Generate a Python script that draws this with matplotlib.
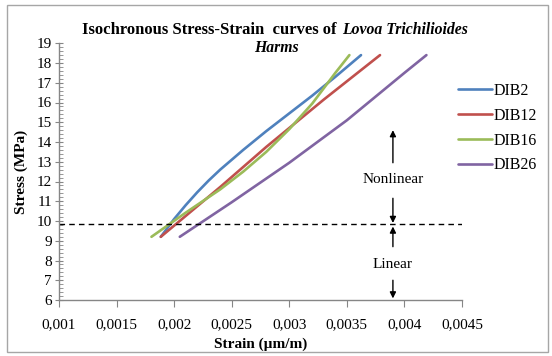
import matplotlib
matplotlib.use("Agg")
import matplotlib.pyplot as plt
from matplotlib.ticker import MultipleLocator, FuncFormatter
from matplotlib.patches import Rectangle

plt.rcParams['font.family'] = ['Liberation Serif', 'DejaVu Serif']

# strain (um/m) / stress (MPa)
dib2_strain = [0.001884, 0.002, 0.0021, 0.0022, 0.0023, 0.0024, 0.0025, 0.0026, 0.0028, 0.003, 0.0032, 0.0034, 0.003623]
dib2_stress = [9.2, 10.1, 10.8, 11.45, 12.05, 12.6, 13.1, 13.6, 14.55, 15.45, 16.35, 17.3, 18.4]

dib12_strain = [0.001884, 0.0024, 0.0028, 0.0033, 0.003788]
dib12_stress = [9.2, 11.72, 13.75, 16.15, 18.4]

dib16_strain = [0.001803, 0.0021, 0.0024, 0.0026, 0.0028, 0.003, 0.0032, 0.0034, 0.003522]
dib16_stress = [9.2, 10.42, 11.6, 12.5, 13.5, 14.65, 15.95, 17.5, 18.4]

dib26_strain = [0.002049, 0.0025, 0.003, 0.0035, 0.004, 0.004191]
dib26_stress = [9.2, 10.95, 12.95, 15.1, 17.5, 18.4]

series = [
    ("DIB2", dib2_strain, dib2_stress, "#4F81BD"),
    ("DIB12", dib12_strain, dib12_stress, "#C0504D"),
    ("DIB16", dib16_strain, dib16_stress, "#9BBB59"),
    ("DIB26", dib26_strain, dib26_stress, "#8064A2"),
]

limit_stress = 9.85
arrow_x = 0.0039

fig = plt.figure(figsize=(5.52, 3.56), dpi=100)
ax = fig.add_axes([59 / 552, 1 - 300 / 356, 403 / 552, 256.75 / 356])

for name, x, y, c in series:
    ax.plot(x, y, color=c, lw=1.9, label=name, solid_capstyle='round')

ax.plot([0.001, 0.0045], [limit_stress, limit_stress], color='black', lw=1, ls=(0, (4, 3)))

# linear / nonlinear arrows
arr = dict(arrowstyle='-|>', color='black', lw=1, mutation_scale=9, shrinkA=0, shrinkB=0)
ax.annotate("", xy=(arrow_x, 14.6), xytext=(arrow_x, 12.95), arrowprops=arr)
ax.annotate("", xy=(arrow_x, 9.9), xytext=(arrow_x, 11.15), arrowprops=arr)
ax.annotate("", xy=(arrow_x, 9.72), xytext=(arrow_x, 8.7), arrowprops=arr)
ax.annotate("", xy=(arrow_x, 6.08), xytext=(arrow_x, 7.0), arrowprops=arr)
ax.text(arrow_x, 12.08, "Nonlinear", ha='center', va='center', fontsize=11)
ax.text(arrow_x, 7.8, "Linear", ha='center', va='center', fontsize=11)

ax.set_xlim(0.001, 0.0045)
ax.set_ylim(6, 19)
ax.xaxis.set_major_locator(MultipleLocator(0.0005))
ax.yaxis.set_major_locator(MultipleLocator(1))
ax.yaxis.set_minor_locator(MultipleLocator(0.2))
ax.xaxis.set_major_formatter(FuncFormatter(lambda v, p: f"{v:g}".replace('.', ',')))

for s in ['top', 'right']:
    ax.spines[s].set_visible(False)
for s in ['left', 'bottom']:
    ax.spines[s].set_color('#868686')
    ax.spines[s].set_linewidth(1)

ax.tick_params(axis='y', which='major', direction='inout', length=6, color='#868686', labelsize=11, pad=2)
ax.tick_params(axis='y', which='minor', direction='in', length=3, color='#868686')
ax.tick_params(axis='x', which='major', direction='out', length=5, color='#868686', labelsize=11, pad=8)

ax.set_xlabel("Strain (µm/m)", fontsize=11, fontweight='bold', labelpad=5)
ax.set_ylabel("Stress (MPa)", fontsize=11, fontweight='bold', labelpad=6)

# title: roman + italic part
fig.text(341 / 552, 1 - 30 / 356, "Isochronous Stress-Strain  curves of ", ha='right', va='center',
         fontsize=12, fontweight='bold')
fig.text(342 / 552, 1 - 30 / 356, "Lovoa Trichilioides", ha='left', va='center',
         fontsize=11.3, fontweight='bold', style='italic')
fig.text(276 / 552, 1 - 48 / 356, "Harms", ha='center', va='center',
         fontsize=11.3, fontweight='bold', style='italic')

ax.legend(loc='upper left', bbox_to_anchor=(458 / 552, 1 - 83 / 356), bbox_transform=fig.transFigure,
          frameon=False, fontsize=11.5, handlelength=2.1, handletextpad=0.15, labelspacing=0.55,
          borderpad=0, borderaxespad=0)

fig.patches.append(Rectangle((7 / 552, 4 / 356), 541 / 552, 347 / 356, transform=fig.transFigure,
                             fill=False, edgecolor='#a6a6a6', lw=1))

fig.savefig("out.png", dpi=100)
